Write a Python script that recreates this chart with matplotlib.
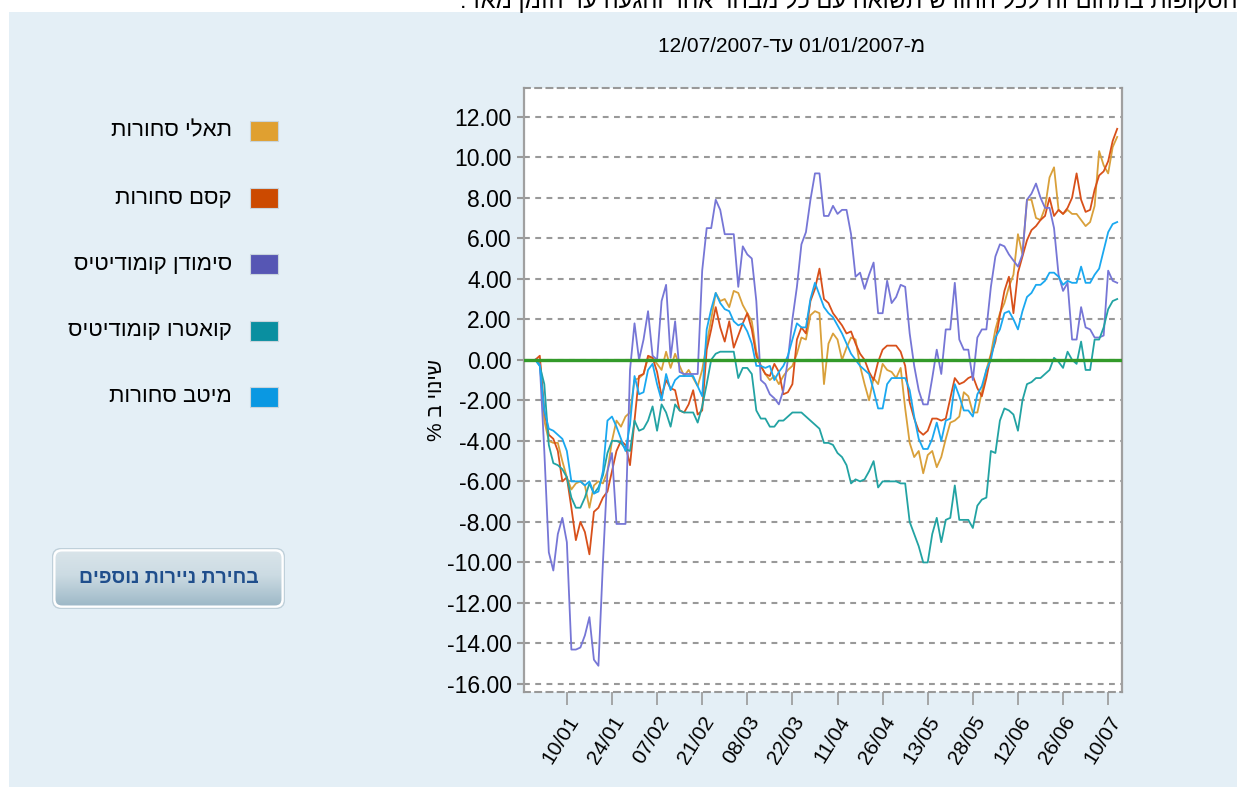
import numpy as np
import matplotlib.pyplot as plt
from matplotlib.patches import Rectangle, FancyBboxPatch

plt.rcParams['font.family'] = ['Liberation Sans Narrow', 'Liberation Sans', 'DejaVu Sans']


def vis(s):
    # no bidi in matplotlib -> hebrew has to go in reversed
    return s[::-1]


W, H = 1237, 787

names = ['תאלי סחורות', 'קסם סחורות', 'סימודן קומודיטיס', 'קואטרו קומודיטיס', 'מיטב סחורות']
box_colors = ['#E0A030', '#CC4A00', '#5656B4', '#0A8FA0', '#0A98E2']
line_colors = ['#D9A03A', '#D8501A', '#7676D6', '#22A3A3', '#1AA8F0']

date_from = '01/01/2007'
date_to = '12/07/2007'
tick_days = [7, 17, 27, 37, 47, 57, 67, 77, 87, 97, 107, 117, 127]
tick_labels = ['10/01', '24/01', '07/02', '21/02', '08/03', '22/03', '11/04',
               '26/04', '13/05', '28/05', '12/06', '26/06', '10/07']
y_ticks = [12, 10, 8, 6, 4, 2, 0, -2, -4, -6, -8, -10, -12, -14, -16]

# % change per trading day (day 0 = 01/01/2007)
tali = [
    0.0, 0.0, -3.0, -4.0, -4.1, -4.1, -5.0, -5.8, -6.4, -6.1,
    -6.0, -6.2, -7.3, -6.2, -6.0, -6.1, -5.5, -4.0, -3.0, -3.3,
    -2.8, -2.6, -1.0, -0.9, -0.7, 0.1, 0.1, -0.2, -0.5, 0.4,
    -0.4, 0.3, -0.3, -0.8, -0.5, -0.9, -1.3, -0.5, 0.8, 2.0,
    3.3, 2.9, 3.0, 2.6, 3.4, 3.3, 2.7, 2.3, 1.9, 0.4,
    -0.3, -0.7, -1.0, -0.8, -1.2, -0.8, -0.5, -0.3, 0.3, 1.1,
    1.0, 2.2, 2.4, 2.3, -1.2, 0.8, 1.3, 1.0, 0.0, 0.6,
    1.1, 1.0, -0.3, -1.2, -2.0, -0.9, -1.2, -0.2, -0.5, -0.6,
    -0.9, -0.4, -2.4, -4.1, -4.8, -4.5, -5.6, -4.7, -4.5, -5.3,
    -4.8, -3.9, -3.1, -3.0, -2.8, -1.6, -1.8, -2.6, -2.6, -1.6,
    -0.5, 0.3, 1.5, 2.3, 2.8, 3.6, 4.2, 6.2, 5.2, 7.9,
    7.9, 7.0, 6.9, 7.5, 9.0, 9.5, 7.4, 7.2, 7.4, 7.2,
    7.2, 6.9, 6.6, 6.8, 7.6, 10.3, 9.6, 9.2, 10.5, 11.0,
]
kesem = [
    0.0, 0.2, -2.5, -3.7, -3.9, -4.5, -6.0, -5.8, -7.3, -8.9,
    -8.0, -8.5, -9.6, -7.5, -7.3, -6.8, -6.5, -5.5, -4.5, -4.0,
    -4.2, -5.2, -3.0, -0.8, -0.7, 0.2, 0.1, -0.6, -1.8, -1.0,
    -1.4, -1.5, -2.5, -2.6, -2.2, -1.5, -2.7, -2.5, 0.5, 1.5,
    2.6, 1.6, 0.9, 1.9, 0.6, 1.2, 1.8, 2.3, 1.5, 0.2,
    -0.3, -0.7, -0.8, -0.2, -0.6, -1.7, -1.6, -1.2, 1.0, 1.6,
    1.3, 2.9, 3.5, 4.5, 3.0, 2.8, 2.3, 2.0, 1.7, 1.3,
    1.4, 0.8, 0.3, 0.0, -0.6, -1.0, -0.1, 0.5, 0.7, 0.7,
    0.7, 0.4, -0.3, -2.1, -2.9, -3.5, -3.7, -3.5, -2.9, -2.9,
    -3.0, -2.9, -1.9, -0.9, -1.2, -1.1, -0.9, -0.8, -1.4, -1.8,
    -0.9, 0.2, 0.9, 2.2, 3.4, 4.1, 2.3, 4.3, 5.1, 5.9,
    6.4, 6.6, 6.9, 7.1, 8.0, 7.1, 7.4, 7.2, 7.5, 8.0,
    9.2, 7.9, 7.3, 7.4, 8.4, 9.1, 9.3, 9.8, 10.8, 11.4,
]
simoden = [
    0.0, -0.2, -4.5, -9.5, -10.4, -8.6, -7.8, -9.0, -14.3, -14.3,
    -14.2, -13.6, -12.7, -14.8, -15.1, -10.0, -5.5, -4.6, -8.1, -8.1,
    -8.1, -0.5, 1.8, 0.0, 1.0, 2.4, 0.2, 0.0, 2.9, 3.7,
    0.1, 1.9, -0.6, -0.7, -0.7, -0.7, -0.7, 4.4, 6.5, 6.5,
    7.9, 7.4, 6.2, 6.2, 6.2, 3.6, 5.6, 5.2, 5.0, 2.9,
    -1.0, -1.2, -1.7, -1.9, -2.2, -1.5, 0.0, 2.0, 3.6, 5.7,
    6.3, 7.9, 9.2, 9.2, 7.1, 7.1, 7.6, 7.2, 7.4, 7.4,
    6.2, 4.1, 4.3, 3.5, 4.2, 4.8, 2.3, 2.3, 3.9, 2.8,
    3.1, 3.7, 3.6, 1.3, -0.3, -1.5, -2.2, -2.2, -0.9, 0.5,
    -0.7, 1.5, 1.5, 3.8, 1.0, 0.5, 0.5, -1.0, 1.1, 1.5,
    1.5, 3.6, 5.1, 5.7, 5.6, 5.2, 4.9, 4.6, 5.2, 7.9,
    8.2, 8.7, 8.0, 7.5, 7.5, 6.5, 4.2, 3.4, 3.8, 1.0,
    1.0, 2.6, 1.6, 1.5, 1.1, 1.1, 1.2, 4.4, 3.9, 3.8,
]
quattro = [
    0.0, -0.3, -1.2, -4.2, -5.1, -5.2, -5.4, -5.8, -6.8, -7.3,
    -7.3, -6.8, -6.1, -6.6, -6.3, -5.7, -4.6, -4.0, -4.0, -4.1,
    -4.4, -4.5, -3.0, -3.5, -3.4, -3.0, -2.3, -3.5, -2.2, -2.6,
    -3.3, -2.2, -2.5, -2.6, -2.6, -2.6, -3.1, -2.3, -1.2, 0.0,
    0.3, 0.4, 0.4, 0.4, 0.4, -0.9, -0.4, -0.4, -0.7, -2.5,
    -2.9, -2.9, -3.3, -3.3, -3.0, -3.0, -2.8, -2.6, -2.6, -2.6,
    -2.8, -3.0, -3.2, -3.4, -4.1, -4.1, -4.2, -4.6, -4.8, -5.2,
    -6.1, -5.9, -6.0, -5.9, -5.5, -5.0, -6.3, -6.0, -6.0, -6.0,
    -6.0, -6.1, -6.1, -8.0, -8.6, -9.2, -10.0, -10.0, -8.6, -7.8,
    -9.0, -7.9, -7.8, -6.2, -7.9, -7.9, -7.9, -8.3, -7.2, -6.9,
    -6.8, -4.5, -4.6, -3.0, -2.4, -2.5, -2.7, -3.5, -2.0, -1.2,
    -1.1, -0.9, -0.9, -0.7, -0.5, 0.1, -0.1, -0.4, 0.4, 0.0,
    -0.2, 0.9, -0.5, -0.5, 1.0, 1.0, 1.6, 2.5, 2.9, 3.0,
]
meitav = [
    0.0, -0.3, -2.5, -3.4, -3.5, -3.7, -3.9, -4.5, -6.0, -6.0,
    -6.0, -6.2, -6.0, -6.6, -6.5, -5.5, -3.0, -2.8, -3.3, -3.9,
    -4.5, -3.2, -0.8, -1.7, -1.6, -0.5, -0.2, -1.2, -2.0, -0.7,
    -1.5, -1.0, -0.8, -0.8, -0.8, -0.8, -1.3, -1.8, 1.5, 2.5,
    3.3, 2.8, 2.5, 2.4, 1.9, 1.7, 1.8, 1.4, 0.8, -0.3,
    -0.3, -0.4, -0.3, -1.0, -0.6, -0.3, 0.2, 1.0, 1.8, 1.6,
    1.6, 3.0, 3.8, 3.2, 2.6, 2.3, 2.1, 1.7, 1.3, 0.8,
    0.3, 0.0, -0.3, -0.5, -0.7, -1.5, -2.4, -2.4, -1.2, -0.9,
    -0.9, -0.9, -0.9, -1.5, -2.8, -3.9, -4.4, -4.4, -3.9, -3.1,
    -4.0, -3.0, -2.9, -1.2, -1.8, -2.5, -2.5, -2.8, -1.7, -1.3,
    -0.5, 0.0, 1.1, 1.5, 2.3, 2.4, 2.0, 1.5, 2.4, 3.1,
    3.3, 3.7, 3.7, 3.9, 4.3, 4.3, 4.1, 3.7, 3.9, 3.8,
    3.8, 4.6, 3.8, 3.8, 4.2, 4.5, 5.4, 6.3, 6.7, 6.8,
]
series = [tali, kesem, simoden, quattro, meitav]

fig = plt.figure(figsize=(W / 100, H / 100), dpi=100)
fig.patch.set_facecolor('white')

# light blue panel (white strip left and top)
fig.patches.append(Rectangle((9 / W, 0), 1 - 9 / W, 1 - 12 / H, transform=fig.transFigure,
                             facecolor='#E4EFF6', edgecolor='none', zorder=-5))

# cut off line of text above the panel
fig.text(1.0, 1 - 8 / H, vis('הסקופות בתחום זה לכל החודש תשואה עם כל מבחר אחר והגעה עד הזמן מאז :'),
         ha='right', va='baseline', fontsize=17, family=['Liberation Sans', 'DejaVu Sans'], color='black')

ax = fig.add_axes([524 / W, 1 - 691.7 / H, (1121.7 - 524) / W, (691.7 - 88.3) / H])
ax.set_facecolor('white')

x = np.arange(len(tali))
for vals, c in zip(series, line_colors):
    ax.plot(x, vals, color=c, lw=1.3, zorder=3)
ax.axhline(0, color='#339A2A', lw=2.4, zorder=4)

ax.set_xlim(-2.5, 130)
ax.set_ylim(-16.38, 13.40)
ax.set_yticks(y_ticks)
ax.set_yticklabels(['%.2f' % v for v in y_ticks], fontsize=16.5)
ax.set_xticks(tick_days)
ax.set_xticklabels(tick_labels, rotation=58, ha='right', va='top', rotation_mode='anchor', fontsize=15)
ax.tick_params(axis='y', length=5, width=1.5, color='#999999', pad=4)
ax.tick_params(axis='x', length=9, width=1.2, color='#999999', pad=6)
ax.yaxis.grid(True, ls=(0, (2.8, 2.6)), color='#999999', lw=1.5, zorder=1)

for s in ['left', 'right']:
    ax.spines[s].set_color('#A0A0A0')
    ax.spines[s].set_linewidth(1.6)
for s in ['top', 'bottom']:
    ax.spines[s].set_color('#999999')
    ax.spines[s].set_linewidth(1.5)
    ax.spines[s].set_linestyle((0, (2.8, 2.6)))

fig.text(791 / W, 1 - 47 / H, date_to + '-' + vis('עד') + ' ' + date_from + '-' + 'מ',
         ha='center', va='center', fontsize=15)
fig.text(437 / W, 1 - 400 / H, vis('שינוי ב %'), rotation=90, ha='center', va='center', fontsize=15)

# legend on the left
row_y = [131, 198, 264, 331, 397]
for name, c, yy in zip(names, box_colors, row_y):
    fig.patches.append(Rectangle((250 / W, 1 - (yy + 10) / H), 28 / W, 20 / H, transform=fig.transFigure,
                                 facecolor=c, edgecolor='#C8D4DC', lw=0.8))
    fig.text(232 / W, 1 - yy / H, vis(name), ha='right', va='center', fontsize=16)

# button, light at the top, darker below
bx, by, bw, bh = 52, 548, 233, 61
bax = fig.add_axes([bx / W, 1 - (by + bh) / H, bw / W, bh / H])
bax.set_xlim(0, bw)
bax.set_ylim(0, bh)
bax.axis('off')
grad = np.linspace(0, 1, 100)
cols = np.array([[0.86, 0.90, 0.92], [0.80, 0.86, 0.89], [0.60, 0.71, 0.77]])
img = np.zeros((100, 1, 3))
for k in range(3):
    img[:, 0, k] = np.interp(grad, [0, 0.45, 1], cols[:, k])
im = bax.imshow(img, extent=[0, bw, 0, bh], aspect='auto', origin='upper', zorder=1)
clip = FancyBboxPatch((2, 2), bw - 4, bh - 4, boxstyle='round,pad=0,rounding_size=8',
                      facecolor='none', edgecolor='white', lw=2.2, zorder=2)
bax.add_patch(clip)
im.set_clip_path(clip)
bax.add_patch(FancyBboxPatch((0.5, 0.5), bw - 1, bh - 1, boxstyle='round,pad=0,rounding_size=9',
                             facecolor='none', edgecolor='#BFD0DA', lw=1.0, zorder=2))
bax.text(bw / 2, bh / 2, vis('בחירת ניירות נוספים'), ha='center', va='center', fontsize=14,
         fontweight='bold', color='#1F4E8C', zorder=3)

fig.savefig('out.png', dpi=100)
